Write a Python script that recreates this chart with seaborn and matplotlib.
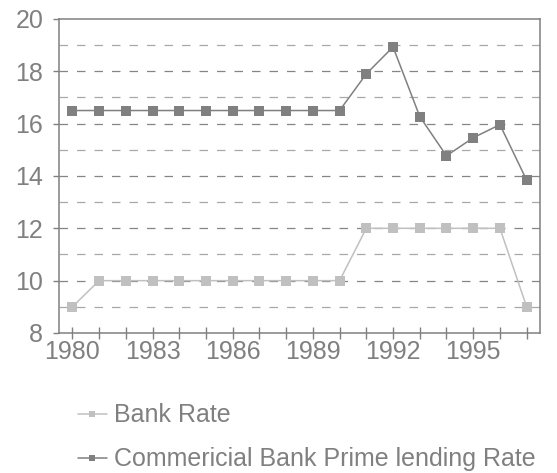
import matplotlib
matplotlib.use("Agg")
import matplotlib.pyplot as plt
import seaborn as sns
import pandas as pd

years = list(range(1980, 1998))
bank_rate = [9, 10, 10, 10, 10, 10, 10, 10, 10, 10, 10, 12, 12, 12, 12, 12, 12, 9]
prime_rate = [16.5, 16.5, 16.5, 16.5, 16.5, 16.5, 16.5, 16.5, 16.5, 16.5, 16.5,
              17.9, 18.93, 16.27, 14.77, 15.46, 15.96, 13.84]
series_names = ["Bank Rate", "Commericial Bank Prime lending Rate"]
series_colors = ["#c0c0c0", "#808080"]
year_labels = [1980, 1983, 1986, 1989, 1992, 1995]

sns.set_style("white")
plt.rcParams["font.family"] = ["Liberation Sans", "DejaVu Sans"]
text_gray = "#808080"
fs = 18

fig = plt.figure(figsize=(5.57, 4.73), dpi=100)
ax = fig.add_axes([0.1059, 0.296, 0.8636, 0.664])

# dashed grid: darker on labelled values, lighter in between
for v in range(9, 20):
    c = "#858585" if v % 2 == 0 else "#a8a8a8"
    ax.axhline(v, color=c, lw=0.9, dashes=(6.8, 7.2), zorder=0)

df = pd.DataFrame({"year": years * 2,
                   "rate": bank_rate + prime_rate,
                   "series": [series_names[0]] * len(years) + [series_names[1]] * len(years)})

for name, color in zip(series_names, series_colors):
    sub = df[df["series"] == name]
    sns.lineplot(data=sub, x="year", y="rate", ax=ax, color=color, lw=1.1,
                 marker="s", markersize=7, markeredgewidth=0, label=name,
                 legend=False, zorder=3)

ax.set_xlim(1979.5, 1997.5)
ax.set_ylim(8, 20)
ax.set_yticks(range(8, 21, 2))
ax.set_xticks(years)
ax.set_xticklabels([str(y) if y in year_labels else "" for y in years])
ax.set_xlabel("")
ax.set_ylabel("")

for s in ax.spines.values():
    s.set_color("#808080")
    s.set_linewidth(1.1)

ax.tick_params(axis="x", direction="inout", length=8.6, width=1, color="#808080",
               labelsize=fs, labelcolor=text_gray, pad=1)
ax.tick_params(axis="y", direction="out", length=4.3, width=1, color="#808080",
               labelsize=fs, labelcolor=text_gray, pad=7)
ax.tick_params(left=True, bottom=True)

handles, labels = ax.get_legend_handles_labels()
leg = fig.legend(handles, labels, loc="upper left", bbox_to_anchor=(0.14, 0.147),
                 frameon=False, fontsize=fs, handlelength=1.16, handletextpad=0.28,
                 labelspacing=0.8, markerscale=0.62, borderaxespad=0, borderpad=0)
for t in leg.get_texts():
    t.set_color(text_gray)

fig.savefig("out.png", dpi=100)
